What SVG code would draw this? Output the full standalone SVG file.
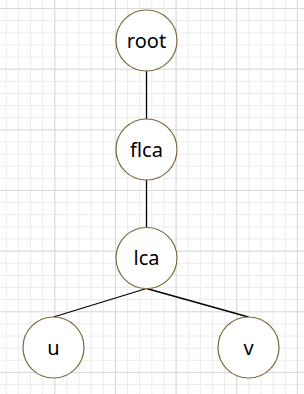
<svg xmlns="http://www.w3.org/2000/svg" width="304" height="394" viewBox="0 0 304 394">
<style>
.node circle{fill:#ffffff;stroke:#7d6a3c;stroke-width:1.2}
.node text{font-family:"Noto Sans","Open Sans",sans-serif;font-size:20px;fill:#000;text-anchor:middle}
.edge{stroke:#000;stroke-width:1.3;fill:none}
</style>
<defs>
<pattern id="minor" x="-6.35" y="8.05" width="12.13" height="12.13" patternUnits="userSpaceOnUse">
<path d="M0.5 0V12.13M0 0.5H12.13" stroke="#ebebeb" stroke-width="1" fill="none"/>
</pattern>
<pattern id="major" x="-6.35" y="8.05" width="60.65" height="60.65" patternUnits="userSpaceOnUse">
<path d="M0.5 0V60.65M0 0.5H60.65" stroke="#d9d9d9" stroke-width="1" fill="none"/>
</pattern>
</defs>
<rect width="304" height="394" fill="#ffffff"/>
<rect width="304" height="394" fill="url(#minor)"/>
<rect width="304" height="394" fill="url(#major)"/>
<g id="connectors">
<line class="edge" x1="146.5" y1="71" x2="146.5" y2="119"/>
<line class="edge" x1="146.5" y1="180" x2="146.5" y2="227.5"/>
<line class="edge" x1="146.5" y1="288.5" x2="53.5" y2="317"/>
<line class="edge" x1="146.5" y1="288.5" x2="248.5" y2="317"/>
</g>
<g id="root" class="node"><circle cx="146.5" cy="40.5" r="30.5"/><text x="146.5" y="47.5">root</text></g>
<g id="flca" class="node"><circle cx="146.5" cy="149.5" r="30.5"/><text x="146.5" y="156.5">flca</text></g>
<g id="lca" class="node"><circle cx="146.5" cy="258" r="30.5"/><text x="146.5" y="265">lca</text></g>
<g id="u" class="node"><circle cx="53.5" cy="347.5" r="30.5"/><text x="53.5" y="354.5">u</text></g>
<g id="v" class="node"><circle cx="248.5" cy="347.5" r="30.5"/><text x="248.5" y="354.5">v</text></g>
</svg>
